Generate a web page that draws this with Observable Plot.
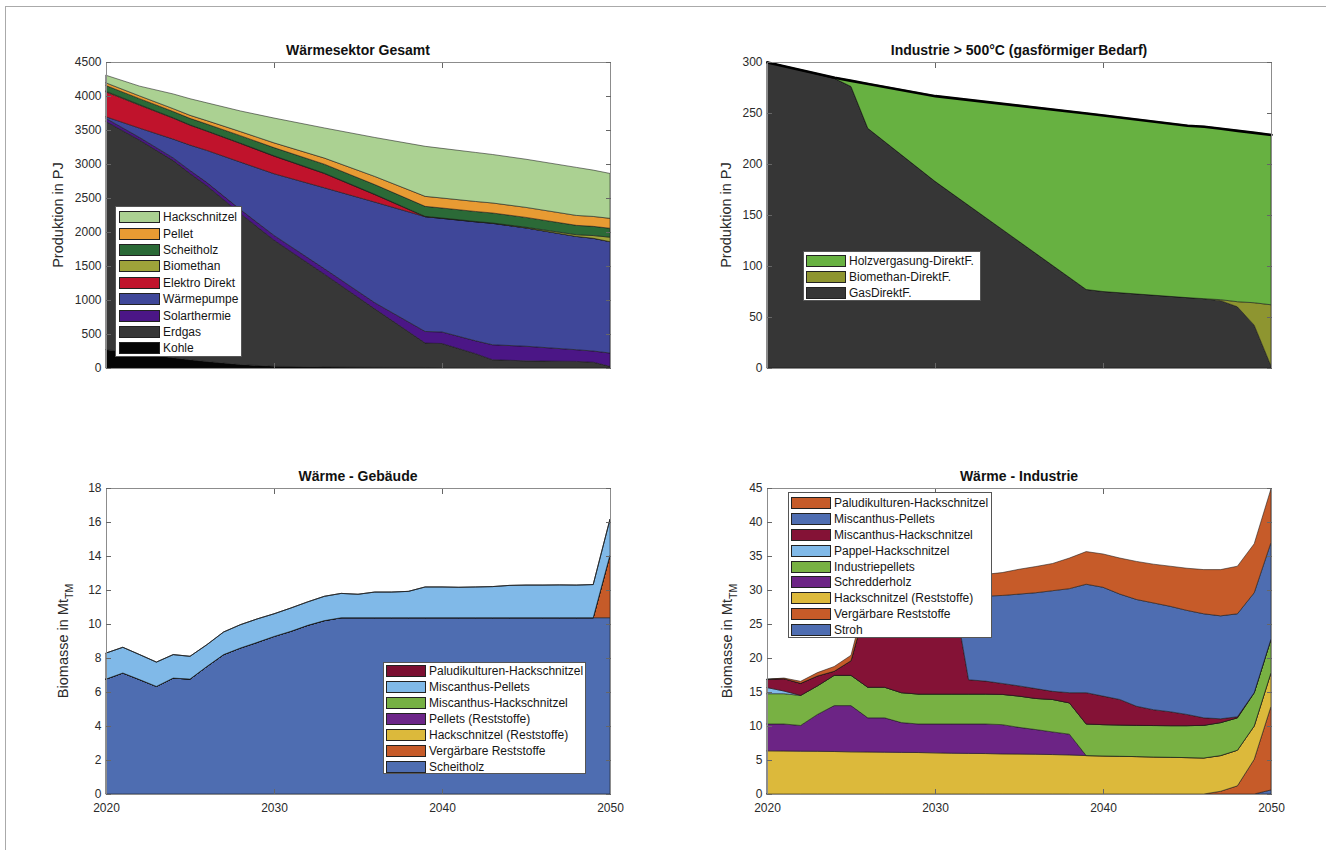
<!DOCTYPE html>
<html>
<head>
<meta charset="utf-8">
<script src="https://cdn.jsdelivr.net/npm/d3@7"></script>
<script src="https://cdn.jsdelivr.net/npm/@observablehq/plot@0.6"></script>
<style>
  body { margin: 0; background: #fff; font-family: "Liberation Sans", Arial, sans-serif; }
  #root { position: relative; width: 1326px; height: 850px; overflow: hidden; background: #fff; }
  .outer { position: absolute; left: 5px; top: 6px; right: -2px; bottom: -2px; border-left: 1px solid #aaa; border-top: 1px solid #aaa; }
  .panel { position: absolute; }
  .legend { position: absolute; background: #fff; border: 1px solid #555; box-sizing: border-box; font-size: 12px; color: #151515; }
  .legend .row { position: relative; display: flex; align-items: center; white-space: nowrap; }
  .legend .sw { flex: none; border: 1px solid #222; box-sizing: border-box; }
</style>
</head>
<body>
<div id="root"><div class="outer"></div></div>
<script>
// ---------------- Panel 1: Wärmesektor Gesamt (PJ) ----------------
const years1 = [2020, 2022, 2024, 2025, 2026, 2028, 2030, 2033, 2036, 2039, 2040, 2042, 2043, 2045, 2048, 2049, 2050];
const names1 = ["Kohle", "Erdgas", "Solarthermie", "Wärmepumpe", "Elektro Direkt", "Biomethan", "Scheitholz", "Pellet", "Hackschnitzel"];
const colors1 = ["#050505", "#373737", "#4b1686", "#3f4799", "#c0132c", "#9ea33a", "#2b6a37", "#e89b33", "#abd192"];
const kohle1 = [270, 210, 150, 120, 95, 50, 25, 15, 10, 8, 5, 3, 2, 0, 0, 0, 0];
const erdgas1 = [3355, 3140, 2900, 2740, 2585, 2220, 1855, 1365, 860, 359, 355, 207, 120, 105, 97, 85, 24];
const solar1 = [45, 40, 40, 45, 50, 60, 70, 80, 90, 170, 170, 190, 220, 215, 172, 165, 196];
const waermepumpe1 = [24, 137, 276, 373, 470, 698, 907, 1190, 1480, 1688, 1671, 1750, 1786, 1740, 1666, 1658, 1638];
const elektro1 = [366, 338, 308, 293, 283, 274, 259, 210, 110, 0, 0, 0, 0, 0, 0, 0, 0];
const biomethan1 = [10, 8, 6, 5, 5, 5, 5, 5, 5, 5, 5, 5, 5, 10, 25, 40, 66];
const scheitholz1 = [84, 88, 92, 95, 100, 110, 120, 132, 142, 147, 147, 147, 147, 145, 138, 135, 131];
const pellet1 = [39, 40, 42, 45, 50, 60, 70, 90, 120, 147, 147, 147, 147, 147, 146, 146, 146];
const hack1 = [112, 144, 216, 244, 262, 303, 365, 443, 573, 736, 730, 721, 713, 708, 706, 681, 660];
const yTicks1 = [0, 500, 1000, 1500, 2000, 2500, 3000, 3500, 4000, 4500];

// ---------------- Panel 2: Industrie > 500°C (PJ) ----------------
const years2 = [2020, 2024, 2025, 2026, 2030, 2039, 2040, 2045, 2046, 2047, 2048, 2049, 2050];
const names2 = ["GasDirektF.", "Biomethan-DirektF.", "Holzvergasung-DirektF."];
const colors2 = ["#363636", "#8e9530", "#67b141"];
const gas2 = [300, 284, 276, 235, 183, 77, 75, 69, 68, 66, 60, 42, 2];
const bio2 = [0, 0, 0, 0, 0, 0, 0, 0, 0, 1, 5, 22, 60];
const holz2 = [0, 1, 6, 44, 84, 173, 173, 169, 169, 168, 168, 167, 167];
const yTicks2 = [0, 50, 100, 150, 200, 250, 300];

// ---------------- Panel 3: Wärme - Gebäude (Mt_TM) ----------------
const years3 = d3.range(2020, 2051);
const names3 = ["Scheitholz", "Vergärbare Reststoffe", "Hackschnitzel (Reststoffe)", "Pellets (Reststoffe)", "Miscanthus-Hackschnitzel", "Miscanthus-Pellets", "Paludikulturen-Hackschnitzel"];
const colors3 = ["#4e6db1", "#c65b29", "#dcb93b", "#6c2588", "#76b043", "#80b9e8", "#7b0f31"];
const scheit3 = [6.76, 7.12, 6.73, 6.33, 6.82, 6.76, 7.5, 8.2, 8.59, 8.92, 9.27, 9.57, 9.92, 10.2, 10.37, 10.37, 10.37, 10.37, 10.37, 10.37, 10.37, 10.37, 10.37, 10.37, 10.37, 10.37, 10.37, 10.37, 10.37, 10.37, 10.37];
const verg3 = [0, 0, 0, 0, 0, 0, 0, 0, 0, 0, 0, 0, 0, 0, 0, 0, 0, 0, 0, 0, 0, 0, 0, 0, 0, 0, 0, 0, 0, 0, 3.7];
const hackR3 = [0, 0, 0, 0, 0, 0, 0, 0, 0, 0, 0, 0, 0, 0, 0, 0, 0, 0, 0, 0, 0, 0, 0, 0, 0, 0, 0, 0, 0, 0, 0];
const pelletsR3 = [0, 0, 0, 0, 0, 0, 0, 0, 0, 0, 0, 0, 0, 0, 0, 0, 0, 0, 0, 0, 0, 0, 0, 0, 0, 0, 0, 0, 0, 0, 0];
const miscH3 = [0, 0, 0, 0, 0, 0, 0, 0, 0, 0, 0, 0, 0, 0, 0, 0, 0, 0, 0, 0, 0, 0, 0, 0, 0, 0, 0, 0, 0, 0, 0];
const miscP3 = [1.53, 1.51, 1.47, 1.43, 1.38, 1.34, 1.28, 1.33, 1.37, 1.38, 1.33, 1.37, 1.38, 1.43, 1.43, 1.38, 1.51, 1.51, 1.55, 1.81, 1.81, 1.79, 1.81, 1.83, 1.9, 1.92, 1.92, 1.93, 1.92, 1.95, 2.1];
const palu3 = [0, 0, 0, 0, 0, 0, 0, 0, 0, 0, 0, 0, 0, 0, 0, 0, 0, 0, 0, 0, 0, 0, 0, 0, 0, 0, 0, 0, 0, 0, 0];
const yTicks3 = [0, 2, 4, 6, 8, 10, 12, 14, 16, 18];

// ---------------- Panel 4: Wärme - Industrie (Mt_TM) ----------------
const years4 = d3.range(2020, 2051);
const names4 = ["Stroh", "Vergärbare Reststoffe", "Hackschnitzel (Reststoffe)", "Schredderholz", "Industriepellets", "Pappel-Hackschnitzel", "Miscanthus-Hackschnitzel", "Miscanthus-Pellets", "Paludikulturen-Hackschnitzel"];
const colors4 = ["#4e6db1", "#c65b29", "#dcb93b", "#6c2485", "#78b143", "#80b9e8", "#841236", "#4e6db1", "#c65b29"];
const stroh4 = [0, 0, 0, 0, 0, 0, 0, 0, 0, 0, 0, 0, 0, 0, 0, 0, 0, 0, 0, 0, 0, 0, 0, 0, 0, 0, 0, 0, 0, 0, 0.6];
const verg4 = [0, 0, 0, 0, 0, 0, 0, 0, 0, 0, 0, 0, 0, 0, 0, 0, 0, 0, 0, 0, 0, 0, 0, 0, 0, 0, 0, 0.4, 1.2, 5.1, 12.3];
const hackR4 = [6.35, 6.33, 6.3, 6.28, 6.25, 6.2, 6.18, 6.15, 6.12, 6.1, 6.05, 6.0, 5.97, 5.95, 5.9, 5.88, 5.85, 5.8, 5.75, 5.65, 5.6, 5.55, 5.5, 5.45, 5.4, 5.35, 5.3, 5.25, 5.24, 4.9, 4.95];
const schred4 = [3.95, 3.97, 3.78, 5.42, 6.75, 6.8, 5.02, 5.05, 4.38, 4.2, 4.25, 4.3, 4.33, 4.35, 4.3, 3.92, 3.63, 3.33, 3.05, 0, 0, 0, 0, 0, 0, 0, 0, 0, 0, 0, 0];
const indP4 = [4.45, 4.45, 4.42, 4.2, 4.45, 4.45, 4.5, 4.5, 4.4, 4.4, 4.4, 4.4, 4.4, 4.4, 4.45, 4.6, 4.57, 4.77, 4.6, 4.65, 4.6, 4.6, 4.6, 4.62, 4.65, 4.7, 4.8, 4.85, 4.76, 4.9, 4.95];
const pappel4 = [0.9, 0.4, 0, 0, 0, 0, 0, 0, 0, 0, 0, 0, 0, 0, 0, 0, 0, 0, 0, 0, 0, 0, 0, 0, 0, 0, 0, 0, 0, 0, 0];
const miscH4 = [1.21, 1.81, 1.77, 1.45, 0.6, 2.15, 12.8, 13.3, 14.6, 15.3, 15.8, 16.3, 2.1, 1.9, 1.61, 1.5, 1.45, 1.2, 1.5, 4.6, 4.2, 3.75, 2.8, 2.33, 2.05, 1.65, 1.1, 0.56, 0.16, 0, 0];
const miscP4 = [0, 0, 0, 0, 0, 0, 0, 0, 0, 0, 0, 0, 12.1, 12.5, 12.94, 13.5, 14.1, 14.8, 15.3, 15.95, 16.0, 15.5, 15.7, 15.7, 15.5, 15.3, 15.3, 15.14, 15.14, 14.7, 14.2];
const palu4 = [0, 0.1, 0.3, 0.5, 0.7, 0.8, 1.5, 2.0, 2.3, 2.6, 2.8, 3.0, 3.1, 3.2, 3.36, 3.65, 3.85, 4.0, 4.5, 4.8, 4.9, 5.3, 5.6, 5.7, 5.9, 6.2, 6.5, 6.8, 7.0, 7.2, 7.9];
const yTicks4 = [0, 5, 10, 15, 20, 25, 30, 35, 40, 45];

const xTicks = [2020, 2030, 2040, 2050];
const xInnerTicks = [2030, 2040];

const root = document.getElementById("root");
const FONT = "'Liberation Sans', Arial, Helvetica, sans-serif";

function makePanel(cfg) {
  const {years, names, arrays, colors, yDomain, yTicks, xLabels, frameX, frameY, title, ylabel, ylabelSub, ylabelX, totalLine, legend} = cfg;
  const data = [];
  names.forEach((n, i) => arrays[i].forEach((v, j) => data.push({year: years[j], value: v, series: n})));
  const mL = 70, mR = 12, mT = 30, mB = 30, W = 504, H = 306;
  const marks = [
    Plot.areaY(data, {x: "year", y: "value", z: "series", fill: "series", order: names,
      stroke: "#151515", strokeWidth: 0.6, strokeOpacity: 0.9, strokeLinejoin: "round"})
  ];
  if (totalLine) {
    marks.push(Plot.lineY(data, Plot.groupX({y: "sum"}, {x: "year", y: "value", stroke: "#000", strokeWidth: 2.6})));
  }
  marks.push(
    Plot.frame({stroke: "#8c8c8c", strokeWidth: 1}),
    Plot.axisY({anchor: "left", ticks: yTicks, tickSize: 0, tickPadding: 5, tickFormat: d => String(d), label: null, fontSize: 12}),
    Plot.axisY({anchor: "left", ticks: yTicks, tickSize: 5, dx: 5, fill: "none", stroke: "#666", label: null}),
    Plot.axisY({anchor: "right", ticks: yTicks, tickSize: 5, dx: -5, fill: "none", stroke: "#666", label: null}),
    Plot.axisX({anchor: "bottom", ticks: xInnerTicks, tickSize: 5, dy: -5, fill: "none", stroke: "#666", label: null}),
    Plot.axisX({anchor: "top", ticks: xInnerTicks, tickSize: 5, dy: 5, fill: "none", stroke: "#666", label: null})
  );
  if (xLabels) {
    marks.push(Plot.axisX({anchor: "bottom", ticks: xTicks, tickSize: 0, tickPadding: 9, tickFormat: d3.format("d"), label: null, fontSize: 12}));
  }
  const svg = Plot.plot({
    width: W + mL + mR, height: H + mT + mB,
    marginLeft: mL, marginRight: mR, marginTop: mT, marginBottom: mB,
    style: {fontFamily: FONT, fontSize: "12px", color: "#2a2a2a", background: "transparent", overflow: "visible"},
    x: {domain: [2020, 2050]},
    y: {domain: yDomain},
    color: {domain: names, range: colors},
    marks
  });
  const sel = d3.select(svg);
  sel.append("text")
    .attr("x", mL + W / 2).attr("y", mT - 7)
    .attr("text-anchor", "middle")
    .attr("font-family", FONT).attr("font-size", 14).attr("font-weight", "bold").attr("fill", "#111")
    .text(title);
  const yl = sel.append("text")
    .attr("transform", `translate(${ylabelX - frameX + mL},${mT + H / 2}) rotate(-90)`)
    .attr("text-anchor", "middle").attr("dy", "0.35em")
    .attr("font-family", FONT).attr("font-size", 14.5).attr("fill", "#2a2a2a");
  yl.append("tspan").text(ylabel);
  if (ylabelSub) yl.append("tspan").attr("font-size", 10.5).attr("dy", "0.45em").text(ylabelSub);
  svg.classList.add("panel");
  svg.style.position = "absolute";
  svg.style.left = (frameX - mL) + "px";
  svg.style.top = (frameY - mT) + "px";
  root.appendChild(svg);

  const lg = document.createElement("div");
  lg.className = "legend";
  Object.assign(lg.style, {left: legend.x + "px", top: legend.y + "px", width: legend.w + "px", height: legend.h + "px", paddingTop: legend.pad + "px"});
  const order = names.map((n, i) => [n, colors[i]]).reverse();
  for (const [n, c] of order) {
    const row = document.createElement("div");
    row.className = "row";
    row.style.height = legend.row + "px";
    const sw = document.createElement("span");
    sw.className = "sw";
    Object.assign(sw.style, {background: c, width: legend.sw + "px", height: legend.sh + "px", marginLeft: legend.sx + "px", marginRight: "3px"});
    const t = document.createElement("span");
    t.textContent = n;
    row.appendChild(sw); row.appendChild(t);
    lg.appendChild(row);
  }
  root.appendChild(lg);
}

makePanel({
  years: years1, names: names1,
  arrays: [kohle1, erdgas1, solar1, waermepumpe1, elektro1, biomethan1, scheitholz1, pellet1, hack1],
  colors: colors1, yDomain: [0, 4500], yTicks: yTicks1, xLabels: false,
  frameX: 106, frameY: 62, title: "Wärmesektor Gesamt", ylabel: "Produktion in PJ", ylabelX: 58,
  legend: {x: 115, y: 206, w: 127, h: 151, pad: 2, row: 16.4, sw: 41, sh: 12, sx: 3}
});
makePanel({
  years: years2, names: names2, arrays: [gas2, bio2, holz2],
  colors: colors2, yDomain: [0, 300], yTicks: yTicks2, xLabels: false, totalLine: true,
  frameX: 767, frameY: 62, title: "Industrie > 500°C (gasförmiger Bedarf)", ylabel: "Produktion in PJ", ylabelX: 726,
  legend: {x: 803, y: 251, w: 178, h: 50, pad: 1, row: 16, sw: 40, sh: 12, sx: 2}
});
makePanel({
  years: years3, names: names3, arrays: [scheit3, verg3, hackR3, pelletsR3, miscH3, miscP3, palu3],
  colors: colors3, yDomain: [0, 18], yTicks: yTicks3, xLabels: true,
  frameX: 106, frameY: 488, title: "Wärme - Gebäude", ylabel: "Biomasse in Mt", ylabelSub: "TM", ylabelX: 63,
  legend: {x: 383, y: 662, w: 203, h: 112, pad: 0.5, row: 15.9, sw: 40, sh: 12, sx: 2}
});
makePanel({
  years: years4, names: names4, arrays: [stroh4, verg4, hackR4, schred4, indP4, pappel4, miscH4, miscP4, palu4],
  colors: colors4, yDomain: [0, 45], yTicks: yTicks4, xLabels: true,
  frameX: 767, frameY: 488, title: "Wärme - Industrie", ylabel: "Biomasse in Mt", ylabelSub: "TM", ylabelX: 727,
  legend: {x: 788, y: 492, w: 204, h: 146, pad: 2, row: 15.9, sw: 40, sh: 12, sx: 2}
});
</script>
</body>
</html>
